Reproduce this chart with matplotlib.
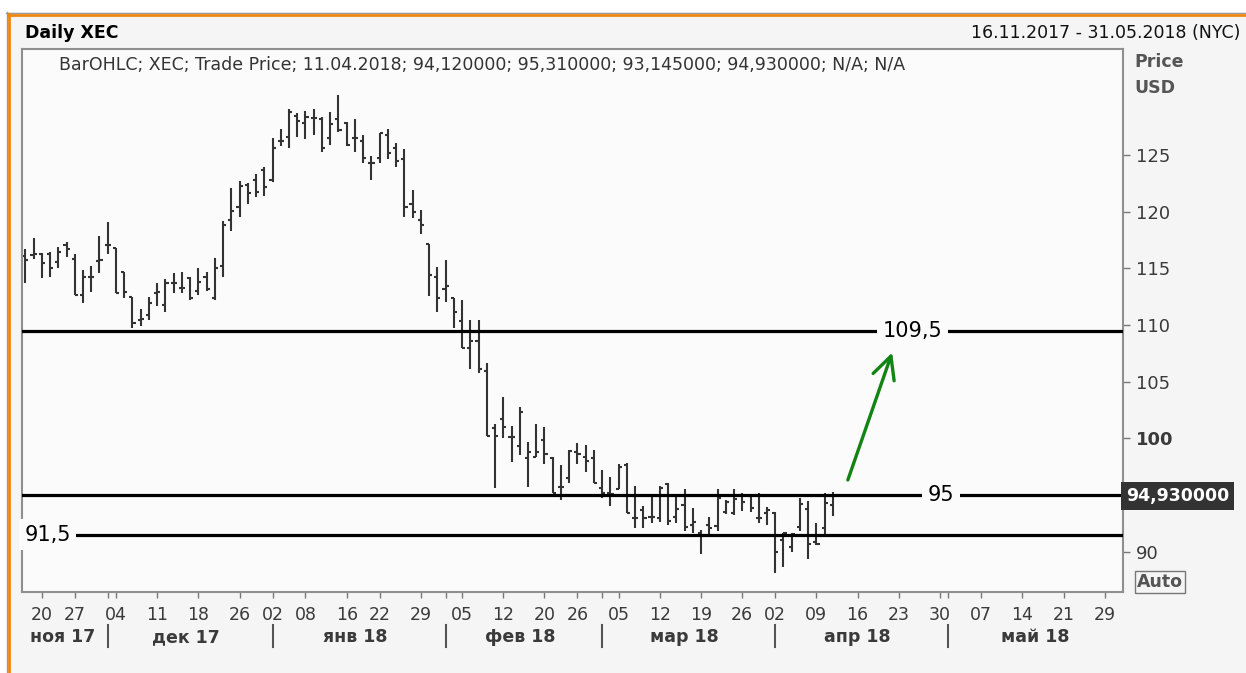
import numpy as np
import pandas as pd
import matplotlib
matplotlib.use('Agg')
import matplotlib.pyplot as plt
import matplotlib.transforms as mtransforms
from matplotlib.lines import Line2D

plt.rcParams['font.family'] = ['DejaVu Sans']

# trading days 16.11.2017 - 31.05.2018 (NYSE holidays removed)
holidays = ['2017-11-23', '2017-12-25', '2018-01-01', '2018-01-15',
            '2018-02-19', '2018-03-30', '2018-05-28']
days = pd.bdate_range('2017-11-16', '2018-05-31')
days = days[~days.isin(pd.to_datetime(holidays))]

# daily OHLC, 16.11.2017 .. 11.04.2018
opens = [116.09, 116.2, 116.24, 116.3, 115.59, 117.06, 115.8, 112.65, 114.27, 115.68,
         117.06, 116.76, 114.65, 112.44, 110.44, 110.88, 112.85, 111.76, 113.68, 113.24,
         114.12, 113.0, 114.27, 112.35, 115.24, 119.27, 120.44, 122.35, 122.8, 123.7,
         122.8, 126.24, 126.6, 128.47, 127.85, 128.3, 128.15, 126.47, 128.15, 127.85,
         126.47, 126.24, 124.26, 124.7, 126.76, 125.6, 124.65, 120.68, 119.3, 117.12,
         114.21, 113.18, 112.41, 110.38, 108.0, 108.59, 105.97, 100.94, 101.71, 100.15,
         99.35, 98.24, 98.38, 99.85, 98.29, 95.74, 96.53, 98.82, 98.38, 98.24,
         95.6, 95.2, 95.5, 97.65, 92.94, 93.68, 93.03, 92.94, 95.97, 93.03,
         94.12, 92.35, 91.62, 92.35, 92.26, 93.53, 93.38, 95.0, 94.91, 92.94,
         93.38, 93.38, 91.03, 90.44, 92.2, 93.74, 90.88, 92.12, 94.12]
highs = [116.68, 117.65, 116.33, 116.41, 116.85, 117.3, 116.24, 114.85, 115.24, 117.88,
         119.06, 116.82, 114.65, 112.44, 111.38, 112.44, 113.68, 114.03, 114.56, 114.65,
         114.21, 115.06, 114.65, 115.88, 119.2, 122.06, 122.7, 122.5, 123.3, 123.9,
         126.47, 127.26, 129.03, 128.7, 128.88, 129.1, 128.38, 128.76, 130.3, 127.88,
         128.15, 126.76, 124.9, 126.97, 127.26, 126.1, 125.5, 121.9, 120.15, 117.12,
         115.09, 115.74, 112.41, 112.2, 110.44, 110.44, 106.62, 101.24, 103.62, 101.12,
         102.74, 99.65, 101.24, 100.97, 98.38, 97.65, 98.97, 99.56, 99.41, 98.97,
         97.2, 96.56, 97.74, 97.8, 95.8, 94.03, 94.8, 95.8, 96.03, 95.0,
         95.5, 93.82, 91.91, 93.09, 95.5, 94.56, 95.5, 95.15, 95.0, 95.15,
         93.97, 93.53, 91.62, 91.62, 94.7, 94.47, 92.56, 95.2, 95.31]
lows = [113.73, 115.8, 114.12, 114.2, 115.0, 116.03, 112.65, 111.97, 112.94, 114.56,
        116.24, 112.8, 112.35, 109.71, 109.9, 110.44, 111.68, 111.18, 112.8, 112.8,
        112.21, 112.65, 113.03, 112.21, 114.2, 118.33, 119.56, 120.65, 121.26, 121.4,
        122.65, 125.82, 125.59, 126.6, 126.38, 126.8, 125.23, 125.88, 127.06, 125.82,
        125.23, 124.26, 122.8, 124.32, 124.65, 123.97, 119.56, 119.4, 118.0, 112.59,
        111.18, 112.0, 109.71, 107.94, 106.09, 105.74, 100.2, 95.59, 100.0, 97.88,
        98.53, 95.74, 98.32, 97.71, 95.15, 94.56, 96.09, 97.71, 97.06, 96.09,
        94.7, 94.03, 95.5, 93.44, 92.12, 92.12, 92.56, 92.65, 92.35, 92.56,
        91.85, 91.62, 89.77, 91.32, 91.85, 93.32, 93.24, 93.59, 93.53, 92.5,
        92.35, 88.09, 88.68, 89.94, 91.82, 89.32, 90.59, 91.32, 93.145]
closes = [115.74, 116.3, 115.44, 115.06, 116.47, 116.68, 112.65, 114.27, 114.27, 115.74,
          117.06, 112.85, 112.94, 110.21, 110.5, 111.97, 112.9, 113.68, 113.68, 113.24,
          112.35, 113.82, 113.18, 115.0, 118.82, 120.09, 122.26, 121.68, 121.76, 122.2,
          125.6, 126.24, 128.82, 128.0, 128.38, 128.3, 125.65, 127.7, 127.2, 125.88,
          126.47, 124.7, 124.26, 126.9, 125.15, 124.47, 120.44, 120.0, 118.82, 114.41,
          112.41, 113.47, 111.18, 107.94, 108.59, 106.12, 100.2, 100.2, 101.03, 100.09,
          102.35, 98.82, 98.82, 98.59, 95.15, 95.68, 98.88, 98.59, 98.03, 96.09,
          95.2, 95.09, 97.5, 93.44, 92.94, 92.94, 93.03, 95.6, 92.74, 93.74,
          92.2, 92.65, 91.5, 92.06, 94.7, 94.41, 94.62, 94.41, 93.82, 92.94,
          93.68, 90.0, 91.62, 91.53, 94.2, 90.68, 90.68, 94.32, 94.93]

levels = [109.5, 95, 91.5]
level_labels = ['109,5', '95', '91,5']
last_price = 94.93

yticks = [90, 100, 105, 110, 115, 120, 125]

tick_dates = ['2017-11-20', '2017-11-27', '2017-12-04', '2017-12-11', '2017-12-18',
              '2017-12-26', '2018-01-02', '2018-01-08', '2018-01-16', '2018-01-22',
              '2018-01-29', '2018-02-05', '2018-02-12', '2018-02-20', '2018-02-26',
              '2018-03-05', '2018-03-12', '2018-03-19', '2018-03-26', '2018-04-02',
              '2018-04-09', '2018-04-16', '2018-04-23', '2018-04-30', '2018-05-07',
              '2018-05-14', '2018-05-21', '2018-05-29']
month_names = ['ноя 17', 'дек 17', 'янв 18', 'фев 18', 'мар 18', 'апр 18', 'май 18']

W, H = 1246, 673
fig = plt.figure(figsize=(W / 100, H / 100), dpi=100, facecolor='white')

# panel background with orange frame at top/left
fig.patches.append(plt.Rectangle((7 / W, 0), 1, 1 - 12 / H, transform=fig.transFigure,
                                 facecolor='#f5f5f5', edgecolor='none', zorder=-5))
fig.add_artist(Line2D([6 / W, 1], [1 - 12.5 / H] * 2, color='#9a9a9a', lw=1))
fig.add_artist(Line2D([8 / W, 1], [1 - 14.5 / H] * 2, color='#f0870f', lw=2))
fig.add_artist(Line2D([6.5 / W] * 2, [0, 1 - 12 / H], color='#9a9a9a', lw=1))
fig.add_artist(Line2D([8.5 / W] * 2, [0, 1 - 14 / H], color='#f0870f', lw=2))

ax = fig.add_axes([22 / W, 1 - 592 / H, (1123 - 22) / W, (592 - 49) / H])
bg = '#fbfbfb'
ax.set_facecolor(bg)

x = np.arange(len(opens))
bar_col = '#333333'
ax.vlines(x, lows, highs, color=bar_col, lw=1.5, zorder=2)
ax.hlines(opens, x - 0.38, x, color=bar_col, lw=1.5, zorder=2)
ax.hlines(closes, x, x + 0.38, color=bar_col, lw=1.5, zorder=2)

# support / resistance levels
label_x = [107.7, 111.1, 2.7]
for lvl, lab, lx in zip(levels, level_labels, label_x):
    ax.axhline(lvl, color='black', lw=2.3, zorder=3)
    ax.text(lx, lvl, lab, ha='center', va='center', fontsize=15, color='black', zorder=4,
            bbox=dict(facecolor=bg, edgecolor='none', pad=4))

ax.annotate('', xy=(105.3, 107.8), xytext=(99.7, 96.1),
            arrowprops=dict(arrowstyle='->,head_length=1.0,head_width=0.5',
                            mutation_scale=16, color='#138413', lw=2.4), zorder=5)

ax.set_xlim(-0.4, 133.2)
ax.set_ylim(86.45, 134.35)

for sp in ax.spines.values():
    sp.set_color('#8f8f8f')
    sp.set_linewidth(1.5)

# y axis on the right
ax.yaxis.tick_right()
ax.set_yticks(yticks, labels=[str(v) for v in yticks])
for lbl in ax.get_yticklabels():
    if lbl.get_text() == '100':
        lbl.set_fontweight('bold')
ax.tick_params(axis='y', direction='out', length=5, width=1, color='#777777',
               labelsize=13, labelcolor='#3a3a3a', pad=4)

# x axis: trading day index
tick_pos = days.get_indexer(pd.to_datetime(tick_dates))
ax.set_xticks(tick_pos, labels=pd.to_datetime(tick_dates).strftime('%d'))
ax.tick_params(axis='x', direction='out', length=4, width=1, color='#777777',
               labelsize=12.5, labelcolor='#3a3a3a', pad=6)

months = days.to_period('M')
starts = np.r_[0, np.where(months[1:] != months[:-1])[0] + 1]
ends = np.r_[starts[1:] - 1, len(days) - 1]
ax.set_xticks(starts[1:], minor=True)
ax.tick_params(axis='x', which='minor', direction='out', length=4, width=1, color='#777777')

trans = mtransforms.blended_transform_factory(ax.transData, ax.transAxes)
for name, s, e in zip(month_names, starts, ends):
    ax.text((s + e) / 2, -0.083, name, transform=trans, ha='center', va='center',
            fontsize=12.5, fontweight='bold', color='#3a3a3a')
for s in starts[1:]:
    ax.plot([s, s], [-0.061, -0.102], transform=trans, color='#555555', lw=1.5,
            clip_on=False)

# last price marker on the axis
ytrans = mtransforms.blended_transform_factory(ax.transAxes, ax.transData)
ax.text(1.003, last_price, '94,930000', transform=ytrans, ha='left', va='center',
        fontsize=12.5, fontweight='bold', color='white', zorder=10, clip_on=False,
        bbox=dict(facecolor='#333333', edgecolor='none', pad=3.5))

# header texts
fig.text(25 / W, 1 - 33 / H, 'Daily XEC', fontsize=12.5, fontweight='bold', va='center')
fig.text(1240 / W, 1 - 33 / H, '16.11.2017 - 31.05.2018 (NYC)', fontsize=12.5,
         ha='right', va='center', color='#111111')
fig.text(59 / W, 1 - 65 / H,
         'BarOHLC; XEC; Trade Price; 11.04.2018; 94,120000; 95,310000; 93,145000; '
         '94,930000; N/A; N/A', fontsize=12.5, va='center', color='#333333')
fig.text(1134 / W, 1 - 62 / H, 'Price', fontsize=12.5, fontweight='bold', va='center',
         color='#555555')
fig.text(1134 / W, 1 - 88 / H, 'USD', fontsize=12.5, fontweight='bold', va='center',
         color='#555555')
fig.text(1137 / W, 1 - 582 / H, 'Auto', fontsize=12.5, fontweight='bold', va='center',
         color='#555555', bbox=dict(facecolor='none', edgecolor='#777777', pad=1.5))

fig.savefig('out.png', dpi=100, facecolor=fig.get_facecolor())
